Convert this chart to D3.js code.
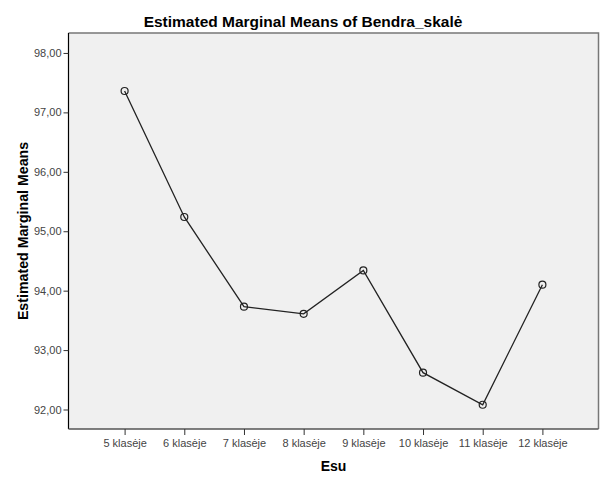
<!DOCTYPE html>
<html><head><meta charset="utf-8">
<script src="https://cdn.jsdelivr.net/npm/d3@7"></script>
<style>body{margin:0;background:#fff;}svg{display:block;}</style>
</head><body>
<svg id="c" width="606" height="477"></svg>
<script>
const categories = ["5 klasėje","6 klasėje","7 klasėje","8 klasėje","9 klasėje","10 klasėje","11 klasėje","12 klasėje"];
const means = [97.36, 95.24, 93.73, 93.61, 94.34, 92.62, 92.08, 94.10];
const yTicks = [92, 93, 94, 95, 96, 97, 98];
const titleText = "Estimated Marginal Means of Bendra_skalė";
const xTitle = "Esu";
const yTitle = "Estimated Marginal Means";

const svg = d3.select("#c");
const L = 68.5, R = 598.5, T = 33, B = 429;
const font = "Arial, 'Liberation Sans', sans-serif";

const x = d3.scalePoint().domain(categories).range([L, R]).padding(0.94);
const y = d3.scaleLinear().domain([91.672, 98.336]).range([B, T]);

svg.append("rect").attr("x", L).attr("y", T).attr("width", R - L).attr("height", B - T)
  .attr("fill", "#f0f0f0");
svg.append("path").attr("d", `M${L},${T}H${R}V${B}`).attr("fill", "none")
  .attr("stroke", "#777").attr("stroke-width", 1.5);

const yAxis = svg.append("g").attr("transform", `translate(${L},0)`)
  .call(d3.axisLeft(y).tickValues(yTicks).tickSize(5).tickPadding(2)
    .tickFormat(d => d3.format(".2f")(d).replace(".", ",")));
yAxis.select(".domain").attr("d", `M0,${T}V${B}`).attr("stroke", "#000").attr("stroke-width", 1.2);
yAxis.selectAll(".tick line").attr("stroke", "#333");
yAxis.selectAll(".tick text").attr("font-family", font).attr("font-size", 11).attr("fill", "#444");

const xAxis = svg.append("g").attr("transform", `translate(0,${B})`)
  .call(d3.axisBottom(x).tickSize(6).tickPadding(4));
xAxis.select(".domain").attr("d", `M${L},0H${R}`).attr("stroke", "#555").attr("stroke-width", 1.5);
xAxis.selectAll(".tick line").attr("stroke", "#333");
xAxis.selectAll(".tick text").attr("font-family", font).attr("font-size", 11).attr("fill", "#444");

const line = d3.line().x((d, i) => x(categories[i])).y(d => y(d));
svg.append("path").datum(means).attr("d", line).attr("fill", "none")
  .attr("stroke", "#222").attr("stroke-width", 1.3);

svg.selectAll("circle.pt").data(means).enter().append("circle").attr("class", "pt")
  .attr("cx", (d, i) => x(categories[i])).attr("cy", d => y(d)).attr("r", 3.5)
  .attr("fill", "none").attr("stroke", "#222").attr("stroke-width", 1.2);

svg.append("text").attr("x", 303).attr("y", 26.5).attr("text-anchor", "middle")
  .attr("font-family", font).attr("font-weight", "bold").attr("font-size", 15.5)
  .attr("fill", "#000").text(titleText);

svg.append("text").attr("x", (L + R) / 2).attr("y", 471).attr("text-anchor", "middle")
  .attr("font-family", font).attr("font-weight", "bold").attr("font-size", 14)
  .attr("fill", "#000").text(xTitle);

svg.append("text").attr("transform", `translate(28,${(T + B) / 2}) rotate(-90)`)
  .attr("text-anchor", "middle")
  .attr("font-family", font).attr("font-weight", "bold").attr("font-size", 14.2)
  .attr("fill", "#000").text(yTitle);
</script>
</body></html>
